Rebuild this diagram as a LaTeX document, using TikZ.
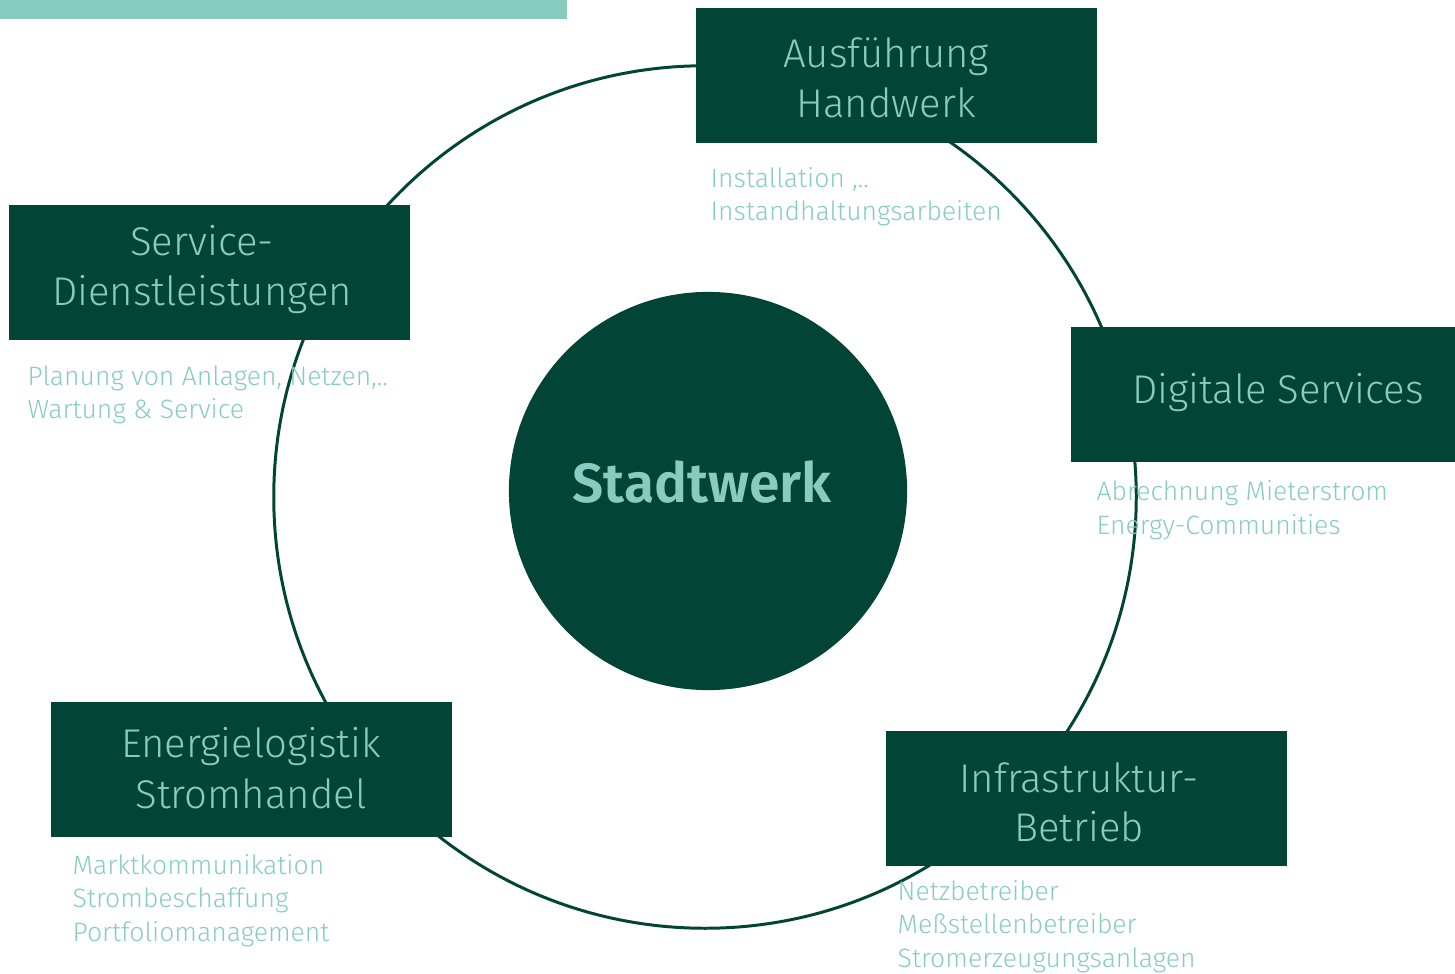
\documentclass[tikz,border=0pt]{standalone}
\usepackage{fontspec}
\setmainfont{Fira Sans Light}[BoldFont={Fira Sans SemiBold}]
\definecolor{dgreen}{HTML}{024536}
\definecolor{lteal}{HTML}{88CCC0}
\tikzset{
  box/.style={fill=dgreen, draw=none},
  boxtext/.style={text=lteal, font=\fontsize{11.4pt}{14pt}\selectfont, inner sep=0pt, anchor=base},
  subtext/.style={text=lteal, font=\fontsize{7.55pt}{9.5pt}\selectfont, inner sep=0pt, anchor=base west},
}
\begin{document}
\begin{tikzpicture}[x=0.01cm,y=-0.01cm]
\useasboundingbox (0,0) rectangle (1455,973);
\fill[lteal] (0,0) rectangle (567,19);
\node[circle, draw=dgreen, line width=0.85pt, minimum size=8.62cm, inner sep=0pt] (ring) at (705,497) {};
\node[circle, fill=dgreen, minimum size=3.98cm, inner sep=0pt] (core) at (708,491) {};
\node[text=lteal, font=\bfseries\fontsize{15.7pt}{16pt}\selectfont, inner sep=0pt, anchor=base] (stadt) at (702,502) {Stadtwerk};
% boxes
\fill[box] (696,8) rectangle (1097,143) coordinate (bA);
\fill[box] (9,205) rectangle (410,340) coordinate (bB);
\fill[box] (1071,327) rectangle (1455,462) coordinate (bC);
\fill[box] (51,702) rectangle (452,837) coordinate (bD);
\fill[box] (886,731) rectangle (1287,866) coordinate (bE);
% box texts
\node[boxtext] (a1) at (886,68) {Ausführung};
\node[boxtext] (a2) at (886,118) {Handwerk};
\node[boxtext] (b1) at (202,255) {Service-};
\node[boxtext] (b2) at (202,305) {Dienstleistungen};
\node[boxtext] (c1) at (1278,403) {Digitale Services};
\node[boxtext] (d1) at (251,757) {Energielogistik};
\node[boxtext] (d2) at (251,808) {Stromhandel};
\node[boxtext] (e1) at (1079,792) {Infrastruktur-};
\node[boxtext] (e2) at (1079,841) {Betrieb};
% subtexts
\node[subtext] (sa1) at (710,187) {Installation ,..};
\node[subtext] (sa2) at (710,220) {Instandhaltungsarbeiten};
\node[subtext] (sb1) at (27,385) {Planung von Anlagen, Netzen,..};
\node[subtext] (sb2) at (27,418) {Wartung \& Service};
\node[subtext] (sc1) at (1096,500) {Abrechnung Mieterstrom};
\node[subtext] (sc2) at (1096,534) {Energy-Communities};
\node[subtext] (sd1) at (72,874) {Marktkommunikation};
\node[subtext] (sd2) at (72,907) {Strombeschaffung};
\node[subtext] (sd3) at (72,941) {Portfoliomanagement};
\node[subtext] (se1) at (897,900) {Netzbetreiber};
\node[subtext] (se2) at (897,933) {Meßstellenbetreiber};
\node[subtext] (se3) at (897,967) {Stromerzeugungsanlagen};
\end{tikzpicture}
\end{document}
